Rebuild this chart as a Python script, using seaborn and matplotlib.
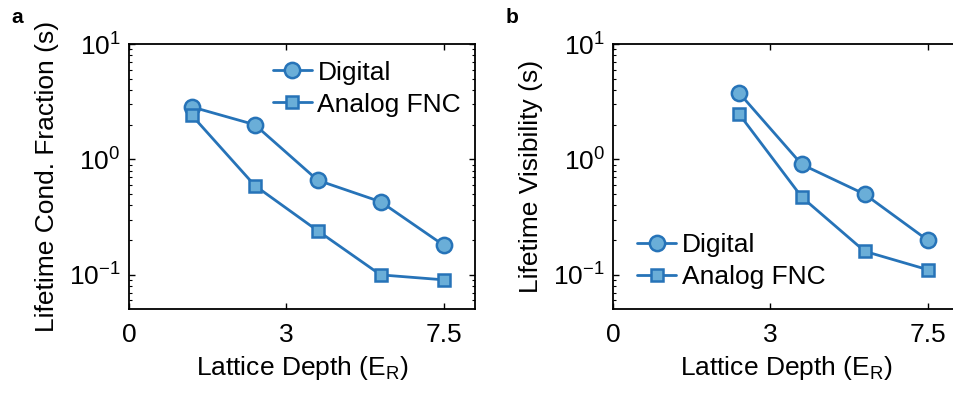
import numpy as np
import pandas as pd
import seaborn as sns
import matplotlib
matplotlib.use("Agg")
import matplotlib.pyplot as plt
from matplotlib.ticker import LogLocator, NullFormatter, FixedLocator

# Lattice depths sampled (E_R)
depth_a = [1.5, 3.0, 4.5, 6.0, 7.5]
depth_b = [3.0, 4.5, 6.0, 7.5]

# Lifetimes of the condensate fraction (s)
digital_a = [2.85, 2.0, 0.66, 0.43, 0.181]
analog_a = [2.41, 0.594, 0.241, 0.100, 0.0906]

# Lifetimes of the visibility (s)
digital_b = [3.79, 0.905, 0.50, 0.20]
analog_b = [2.49, 0.472, 0.16, 0.111]

series_names = ["Digital", "Analog FNC"]
x_tick_pos = [0, 3.75, 7.5]
x_tick_labels = ["0", "3", "7.5"]
y_labels = ["Lifetime Cond. Fraction (s)", "Lifetime Visibility (s)"]
x_label = "Lattice Depth (E$_\\mathregular{R}$)"
panel_tags = ["a", "b"]

sns.set_theme(style="ticks")
plt.rcParams["font.family"] = ["Liberation Sans", "DejaVu Sans"]
plt.rcParams["mathtext.fontset"] = "custom"
plt.rcParams["mathtext.rm"] = "Liberation Sans"
plt.rcParams["mathtext.it"] = "Liberation Sans"
plt.rcParams["mathtext.sf"] = "Liberation Sans"
plt.rcParams["axes.unicode_minus"] = True
plt.rcParams["text.color"] = "black"
plt.rcParams["axes.labelcolor"] = "black"
plt.rcParams["xtick.color"] = "black"
plt.rcParams["ytick.color"] = "black"

FS = 19
line_color = "#2673b8"
face_color = "#6aaed8"

fig = plt.figure(figsize=(9.54, 3.94), dpi=100)
ax_a = fig.add_axes([0.1352, 0.2157, 0.3627, 0.6726])
ax_b = fig.add_axes([0.6426, 0.2157, 0.3627, 0.6726])

def draw(ax, xs, dig, ana, legend_loc, legend_anchor):
    df = pd.DataFrame({
        "depth": list(xs) * 2,
        "lifetime": list(dig) + list(ana),
        "kind": [series_names[0]] * len(xs) + [series_names[1]] * len(xs),
    })
    sub_d = df[df["kind"] == series_names[0]]
    sub_a = df[df["kind"] == series_names[1]]
    sns.lineplot(data=sub_d, x="depth", y="lifetime", ax=ax, color=line_color,
                 lw=2.0, marker="o", markersize=11, markerfacecolor=face_color,
                 markeredgecolor=line_color, markeredgewidth=1.8,
                 label=series_names[0])
    sns.lineplot(data=sub_a, x="depth", y="lifetime", ax=ax, color=line_color,
                 lw=2.0, marker="s", markersize=9, markerfacecolor=face_color,
                 markeredgecolor=line_color, markeredgewidth=1.8,
                 label=series_names[1])
    ax.set_yscale("log")
    ax.set_ylim(0.0506, 10)
    ax.set_xlim(0, 8.25)
    ax.xaxis.set_major_locator(FixedLocator(x_tick_pos))
    ax.set_xticklabels(x_tick_labels)
    ax.yaxis.set_major_locator(LogLocator(base=10, numticks=10))
    ax.yaxis.set_minor_locator(LogLocator(base=10, subs=np.arange(2, 10) * 1.0, numticks=10))
    ax.yaxis.set_minor_formatter(NullFormatter())
    ax.tick_params(axis="both", which="major", direction="in", length=4.5, width=1.0,
                   top=True, right=True, labelsize=FS, pad=6, colors="black")
    ax.tick_params(axis="y", which="minor", direction="in", length=2.5, width=0.8,
                   left=True, right=True)
    ax.tick_params(axis="x", which="major", pad=10)
    for s in ax.spines.values():
        s.set_linewidth(1.3)
        s.set_color("black")
    ax.set_xlabel(x_label, fontsize=FS, labelpad=5)
    ax.legend(loc=legend_loc, bbox_to_anchor=legend_anchor, frameon=False,
              fontsize=FS, handlelength=1.5, handletextpad=0.2,
              labelspacing=0.3, borderaxespad=0.0, borderpad=0.0)
    return ax

draw(ax_a, depth_a, digital_a, analog_a, "upper left", (0.415, 0.937))
draw(ax_b, depth_b, digital_b, analog_b, "lower left", (0.069, 0.075))

ax_a.set_ylabel(y_labels[0], fontsize=FS, labelpad=7)
ax_b.set_ylabel(y_labels[1], fontsize=FS, labelpad=7)

fig.text(0.012, 0.955, panel_tags[0], fontsize=15, fontweight="bold", ha="left", va="center")
fig.text(0.530, 0.955, panel_tags[1], fontsize=15, fontweight="bold", ha="left", va="center")

fig.savefig("out.png", dpi=100)
